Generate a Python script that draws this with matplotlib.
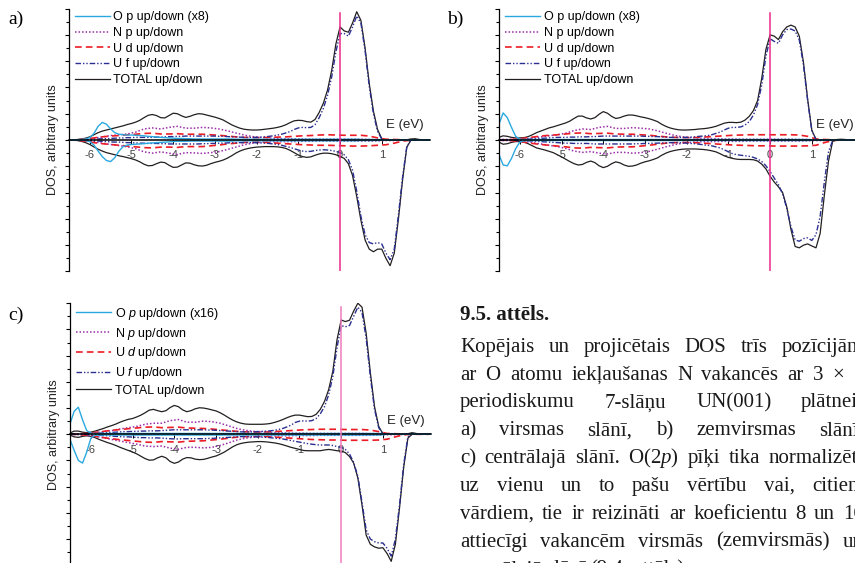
import numpy as np
import matplotlib.pyplot as plt
from matplotlib.transforms import IdentityTransform

plt.rcParams["font.family"] = ["Liberation Sans", "DejaVu Sans"]
plt.rcParams["mathtext.fontset"] = "custom"
plt.rcParams["mathtext.rm"] = "Liberation Serif"
plt.rcParams["mathtext.it"] = "Liberation Serif:italic"
plt.rcParams["mathtext.sf"] = "Liberation Sans:italic"

# energy grids (eV): fine one for TOTAL, U f, O p; coarse one for N p, U d
energy = np.round(np.arange(-6.5, 2.25, 0.1), 1)
energy_c = np.round(np.arange(-6.5, 2.15, 0.2), 1)

# ---------------- panel a) surface layer ----------------
tot_up_a = [0.0, 0.0, 0.02, 0.04, 0.07, 0.12, 0.2, 0.28, 0.34, 0.38,
            0.42, 0.46, 0.5, 0.54, 0.59, 0.63, 0.68, 0.75, 0.85, 0.94,
            0.97, 0.93, 0.85, 0.84, 0.93, 1.02, 1.0, 0.92, 0.86, 0.9,
            0.96, 1.0, 0.99, 0.95, 0.91, 0.87, 0.82, 0.76, 0.67, 0.58,
            0.51, 0.45, 0.41, 0.39, 0.38, 0.38, 0.39, 0.41, 0.43, 0.45,
            0.48, 0.52, 0.58, 0.66, 0.73, 0.75, 0.74, 0.7, 0.68, 0.78,
            1.05, 1.4, 1.9, 2.65, 3.65, 4.3, 4.15, 4.1, 4.45, 4.88,
            4.55, 3.5, 2.15, 1.1, 0.4, 0.05, 0.0, 0.0, 0.0, 0.0,
            0.0, 0.01, 0.04, 0.05, 0.02, 0.0, 0.0, 0.0]
tot_dn_a = [0.0, 0.0, -0.02, -0.05, -0.1, -0.17, -0.26, -0.35, -0.42, -0.48,
            -0.52, -0.56, -0.6, -0.63, -0.67, -0.71, -0.76, -0.83, -0.92, -0.98,
            -0.97, -0.9, -0.84, -0.86, -0.96, -1.04, -1.03, -0.95, -0.87, -0.88,
            -0.94, -0.98, -0.99, -0.96, -0.9, -0.85, -0.81, -0.76, -0.69, -0.6,
            -0.5, -0.42, -0.36, -0.32, -0.29, -0.27, -0.26, -0.25, -0.25, -0.25,
            -0.26, -0.28, -0.32, -0.39, -0.48, -0.57, -0.63, -0.66, -0.64, -0.58,
            -0.53, -0.5, -0.5, -0.52, -0.56, -0.62, -0.7, -0.9, -1.35, -2.15,
            -3.05, -3.8, -4.15, -4.25, -4.15, -4.15, -4.5, -4.78, -4.3, -3.0,
            -1.5, -0.28, 0.0, 0.0, 0.0, 0.0, 0.0, 0.0]
uf_up_a = [0.0, 0.0, 0.0, 0.01, 0.01, 0.02, 0.03, 0.04, 0.05, 0.05,
           0.06, 0.07, 0.08, 0.08, 0.09, 0.09, 0.1, 0.1, 0.1, 0.1,
           0.1, 0.11, 0.11, 0.12, 0.13, 0.13, 0.14, 0.14, 0.15, 0.15,
           0.15, 0.15, 0.15, 0.15, 0.15, 0.15, 0.14, 0.14, 0.13, 0.12,
           0.12, 0.11, 0.1, 0.1, 0.1, 0.1, 0.11, 0.12, 0.14, 0.16,
           0.19, 0.22, 0.27, 0.32, 0.4, 0.46, 0.48, 0.47, 0.48, 0.58,
           0.85, 1.2, 1.7, 2.4, 3.35, 4.05, 4.05, 3.95, 4.3, 4.72,
           4.45, 3.4, 2.05, 1.0, 0.33, 0.03, 0.0, 0.0, 0.0, 0.0,
           0.0, 0.0, 0.0, 0.0, 0.0, 0.0, 0.0, 0.0]
uf_dn_a = [0.0, 0.0, 0.0, -0.01, -0.01, -0.02, -0.03, -0.04, -0.05, -0.06,
           -0.07, -0.08, -0.08, -0.09, -0.1, -0.1, -0.11, -0.12, -0.12, -0.13,
           -0.13, -0.13, -0.14, -0.14, -0.15, -0.15, -0.15, -0.15, -0.15, -0.15,
           -0.15, -0.15, -0.14, -0.14, -0.13, -0.13, -0.12, -0.12, -0.11, -0.1,
           -0.1, -0.1, -0.1, -0.1, -0.1, -0.1, -0.11, -0.12, -0.13, -0.15,
           -0.17, -0.2, -0.24, -0.28, -0.33, -0.38, -0.42, -0.44, -0.43, -0.4,
           -0.38, -0.37, -0.38, -0.4, -0.43, -0.48, -0.56, -0.75, -1.15, -1.95,
           -2.9, -3.6, -3.9, -3.95, -3.9, -3.95, -4.3, -4.55, -4.15, -2.85,
           -1.4, -0.25, 0.0, 0.0, 0.0, 0.0, 0.0, 0.0]
op_up_a = [0.0, 0.0, 0.01, 0.02, 0.04, 0.09, 0.25, 0.52, 0.67, 0.6,
           0.42, 0.28, 0.22, 0.2, 0.19, 0.19, 0.18, 0.17, 0.16, 0.14,
           0.13, 0.11, 0.1, 0.09, 0.08, 0.07, 0.06, 0.06, 0.05, 0.05,
           0.04, 0.04, 0.04, 0.04, 0.04, 0.04, 0.04, 0.04, 0.04, 0.04,
           0.03, 0.03, 0.03, 0.03, 0.03, 0.03, 0.03, 0.03, 0.03, 0.03,
           0.03, 0.03, 0.03, 0.03, 0.03, 0.03, 0.03, 0.03, 0.03, 0.03,
           0.03, 0.03, 0.03, 0.03, 0.03, 0.03, 0.03, 0.03, 0.03, 0.03,
           0.02, 0.02, 0.02, 0.02, 0.02, 0.01, 0.0, 0.0, 0.0, 0.0,
           0.0, 0.0, 0.0, 0.0, 0.0, 0.0, 0.0, 0.0]
op_dn_a = [0.0, 0.0, 0.0, -0.01, -0.02, -0.06, -0.19, -0.42, -0.63, -0.78,
           -0.82, -0.67, -0.42, -0.25, -0.19, -0.17, -0.16, -0.15, -0.14, -0.12,
           -0.11, -0.1, -0.09, -0.08, -0.07, -0.06, -0.05, -0.05, -0.05, -0.04,
           -0.04, -0.04, -0.04, -0.04, -0.04, -0.04, -0.04, -0.04, -0.04, -0.04,
           -0.03, -0.03, -0.03, -0.03, -0.03, -0.03, -0.03, -0.03, -0.03, -0.03,
           -0.03, -0.03, -0.03, -0.03, -0.03, -0.03, -0.03, -0.03, -0.03, -0.03,
           -0.03, -0.03, -0.03, -0.03, -0.03, -0.03, -0.03, -0.03, -0.03, -0.03,
           -0.02, -0.02, -0.02, -0.02, -0.02, -0.01, 0.0, 0.0, 0.0, 0.0,
           0.0, 0.0, 0.0, 0.0, 0.0, 0.0, 0.0, 0.0]
np_up_a = [0.0, 0.01, 0.03, 0.07, 0.12, 0.17, 0.2, 0.23, 0.3, 0.42,
           0.46, 0.42, 0.48, 0.52, 0.45, 0.45, 0.48, 0.46, 0.42, 0.35,
           0.27, 0.19, 0.13, 0.1, 0.08, 0.06, 0.05, 0.04, 0.04, 0.03,
           0.03, 0.03, 0.03, 0.03, 0.03, 0.03, 0.02, 0.01, 0.01, 0.01,
           0.0, 0.0, 0.0, 0.0]
np_dn_a = [0.0, -0.01, -0.03, -0.07, -0.12, -0.17, -0.21, -0.26, -0.33, -0.45,
           -0.5, -0.45, -0.5, -0.55, -0.48, -0.49, -0.51, -0.48, -0.44, -0.36,
           -0.27, -0.18, -0.12, -0.09, -0.07, -0.06, -0.06, -0.06, -0.05, -0.05,
           -0.04, -0.04, -0.04, -0.04, -0.04, -0.04, -0.04, -0.03, -0.02, -0.02,
           -0.01, 0.0, 0.0, 0.0]
ud_up_a = [0.0, 0.01, 0.04, 0.08, 0.12, 0.15, 0.17, 0.2, 0.22, 0.25,
           0.26, 0.23, 0.23, 0.24, 0.22, 0.22, 0.22, 0.2, 0.18, 0.15,
           0.12, 0.1, 0.09, 0.09, 0.1, 0.11, 0.12, 0.14, 0.16, 0.17,
           0.19, 0.2, 0.19, 0.18, 0.18, 0.18, 0.15, 0.08, 0.03, 0.02,
           0.01, 0.0, 0.0, 0.0]
ud_dn_a = [0.0, -0.01, -0.05, -0.1, -0.14, -0.17, -0.2, -0.23, -0.26, -0.29,
           -0.3, -0.27, -0.27, -0.28, -0.25, -0.25, -0.25, -0.22, -0.19, -0.15,
           -0.12, -0.09, -0.08, -0.08, -0.1, -0.12, -0.14, -0.16, -0.18, -0.19,
           -0.2, -0.2, -0.21, -0.22, -0.23, -0.23, -0.22, -0.2, -0.18, -0.12,
           -0.04, -0.01, 0.0, 0.0]

# ---------------- panel b) subsurface layer ----------------
tot_up_b = [0.1, 0.16, 0.14, 0.1, 0.08, 0.08, 0.09, 0.13, 0.2, 0.28,
            0.34, 0.4, 0.46, 0.5, 0.55, 0.6, 0.65, 0.72, 0.82, 0.91,
            0.91, 0.84, 0.8, 0.85, 0.98, 1.08, 1.02, 0.9, 0.82, 0.85,
            0.91, 0.95, 0.95, 0.92, 0.88, 0.85, 0.81, 0.76, 0.7, 0.6,
            0.52, 0.46, 0.42, 0.39, 0.38, 0.38, 0.39, 0.4, 0.42, 0.43,
            0.45, 0.48, 0.52, 0.58, 0.64, 0.67, 0.67, 0.66, 0.68, 0.76,
            0.9, 1.12, 1.5, 2.35, 3.45, 4.0, 3.95, 3.82, 4.12, 4.3,
            4.37, 4.3, 3.95, 2.95, 1.55, 0.38, 0.02, 0.0, 0.0, 0.0,
            0.0, 0.02, 0.03, 0.02, 0.0, 0.0, 0.0, 0.0]
tot_dn_b = [-0.08, -0.16, -0.14, -0.09, -0.06, -0.06, -0.08, -0.14, -0.22, -0.3,
            -0.34, -0.38, -0.43, -0.48, -0.56, -0.64, -0.73, -0.82, -0.9, -0.95,
            -0.93, -0.85, -0.8, -0.86, -0.98, -1.05, -1.0, -0.9, -0.83, -0.87,
            -0.95, -1.0, -0.99, -0.95, -0.88, -0.83, -0.79, -0.74, -0.68, -0.58,
            -0.5, -0.44, -0.4, -0.37, -0.35, -0.34, -0.34, -0.34, -0.35, -0.36,
            -0.38, -0.41, -0.45, -0.52, -0.6, -0.66, -0.7, -0.73, -0.74, -0.74,
            -0.74, -0.75, -0.8, -0.92, -1.1, -1.38, -1.6, -1.78, -2.0, -2.55,
            -3.4, -4.05, -4.1, -4.0, -3.95, -4.03, -4.1, -3.55, -2.1, -0.8,
            -0.05, 0.0, 0.0, 0.0, 0.0, 0.0, 0.0, 0.0]
uf_up_b = [0.0, 0.01, 0.01, 0.01, 0.01, 0.01, 0.02, 0.03, 0.04, 0.05,
           0.06, 0.07, 0.08, 0.09, 0.1, 0.1, 0.1, 0.11, 0.11, 0.12,
           0.12, 0.12, 0.13, 0.13, 0.14, 0.15, 0.15, 0.15, 0.15, 0.15,
           0.15, 0.15, 0.15, 0.15, 0.15, 0.14, 0.14, 0.13, 0.13, 0.12,
           0.11, 0.1, 0.1, 0.1, 0.1, 0.1, 0.11, 0.12, 0.14, 0.15,
           0.17, 0.2, 0.25, 0.3, 0.38, 0.45, 0.48, 0.48, 0.5, 0.57,
           0.7, 0.95, 1.35, 2.1, 3.2, 3.85, 3.75, 3.68, 4.0, 4.2,
           4.22, 4.15, 3.8, 2.85, 1.5, 0.35, 0.02, 0.0, 0.0, 0.0,
           0.0, 0.0, 0.0, 0.0, 0.0, 0.0, 0.0, 0.0]
uf_dn_b = [0.0, -0.01, -0.01, -0.01, -0.01, -0.01, -0.02, -0.03, -0.04, -0.05,
           -0.06, -0.07, -0.08, -0.09, -0.1, -0.11, -0.12, -0.12, -0.13, -0.13,
           -0.13, -0.13, -0.14, -0.15, -0.15, -0.15, -0.15, -0.15, -0.15, -0.15,
           -0.15, -0.15, -0.15, -0.14, -0.14, -0.13, -0.13, -0.12, -0.12, -0.11,
           -0.11, -0.1, -0.1, -0.1, -0.11, -0.12, -0.13, -0.14, -0.16, -0.18,
           -0.2, -0.22, -0.26, -0.3, -0.37, -0.45, -0.52, -0.56, -0.58, -0.6,
           -0.62, -0.66, -0.72, -0.82, -0.98, -1.2, -1.45, -1.7, -2.05, -2.6,
           -3.3, -3.8, -3.85, -3.75, -3.72, -3.82, -3.6, -2.9, -1.6, -0.45,
           -0.02, 0.0, 0.0, 0.0, 0.0, 0.0, 0.0, 0.0]
op_up_b = [0.6, 1.03, 0.85, 0.48, 0.14, 0.03, 0.02, 0.02, 0.02, 0.02,
           0.02, 0.02, 0.02, 0.02, 0.02, 0.02, 0.02, 0.02, 0.02, 0.02,
           0.02, 0.02, 0.02, 0.02, 0.02, 0.02, 0.02, 0.02, 0.02, 0.02,
           0.02, 0.02, 0.02, 0.02, 0.02, 0.02, 0.02, 0.02, 0.02, 0.02,
           0.02, 0.02, 0.02, 0.02, 0.02, 0.02, 0.02, 0.02, 0.02, 0.02,
           0.02, 0.02, 0.02, 0.02, 0.02, 0.02, 0.02, 0.02, 0.02, 0.02,
           0.02, 0.02, 0.02, 0.02, 0.02, 0.02, 0.02, 0.02, 0.02, 0.02,
           0.02, 0.02, 0.02, 0.02, 0.02, 0.01, 0.0, 0.0, 0.0, 0.0,
           0.0, 0.0, 0.0, 0.0, 0.0, 0.0, 0.0, 0.0]
op_dn_b = [-0.55, -0.95, -0.98, -0.7, -0.33, -0.08, -0.03, -0.02, -0.02, -0.02,
           -0.02, -0.02, -0.02, -0.02, -0.02, -0.02, -0.02, -0.02, -0.02, -0.02,
           -0.02, -0.02, -0.02, -0.02, -0.02, -0.02, -0.02, -0.02, -0.02, -0.02,
           -0.02, -0.02, -0.02, -0.02, -0.02, -0.02, -0.02, -0.02, -0.02, -0.02,
           -0.02, -0.02, -0.02, -0.02, -0.02, -0.02, -0.02, -0.02, -0.02, -0.02,
           -0.02, -0.02, -0.02, -0.02, -0.02, -0.02, -0.02, -0.02, -0.02, -0.02,
           -0.02, -0.02, -0.02, -0.02, -0.02, -0.02, -0.02, -0.02, -0.02, -0.02,
           -0.02, -0.02, -0.02, -0.02, -0.02, -0.01, 0.0, 0.0, 0.0, 0.0,
           0.0, 0.0, 0.0, 0.0, 0.0, 0.0, 0.0, 0.0]
np_up_b = [0.02, 0.02, 0.02, 0.04, 0.08, 0.12, 0.16, 0.2, 0.26, 0.36,
           0.42, 0.4, 0.48, 0.52, 0.44, 0.44, 0.47, 0.45, 0.42, 0.35,
           0.26, 0.18, 0.12, 0.09, 0.07, 0.06, 0.05, 0.04, 0.04, 0.03,
           0.03, 0.03, 0.03, 0.03, 0.03, 0.03, 0.02, 0.02, 0.01, 0.01,
           0.0, 0.0, 0.0, 0.0]
np_dn_b = [-0.02, -0.02, -0.02, -0.05, -0.1, -0.15, -0.2, -0.25, -0.32, -0.42,
           -0.47, -0.44, -0.5, -0.53, -0.47, -0.47, -0.5, -0.48, -0.43, -0.35,
           -0.26, -0.18, -0.12, -0.09, -0.07, -0.06, -0.06, -0.05, -0.05, -0.05,
           -0.04, -0.04, -0.04, -0.04, -0.04, -0.04, -0.04, -0.03, -0.02, -0.02,
           -0.01, 0.0, 0.0, 0.0]
ud_up_b = [0.01, 0.01, 0.03, 0.07, 0.11, 0.15, 0.18, 0.2, 0.23, 0.26,
           0.27, 0.24, 0.25, 0.26, 0.23, 0.22, 0.22, 0.2, 0.18, 0.15,
           0.12, 0.1, 0.09, 0.09, 0.1, 0.12, 0.14, 0.16, 0.18, 0.19,
           0.2, 0.2, 0.2, 0.2, 0.2, 0.2, 0.19, 0.14, 0.04, 0.02,
           0.01, 0.0, 0.0, 0.0]
ud_dn_b = [-0.01, -0.01, -0.04, -0.08, -0.13, -0.17, -0.2, -0.23, -0.26, -0.3,
           -0.31, -0.28, -0.29, -0.3, -0.27, -0.26, -0.26, -0.23, -0.2, -0.16,
           -0.12, -0.1, -0.09, -0.09, -0.11, -0.13, -0.15, -0.17, -0.19, -0.2,
           -0.21, -0.22, -0.22, -0.23, -0.23, -0.23, -0.23, -0.22, -0.2, -0.1,
           -0.02, 0.0, 0.0, 0.0]

# ---------------- panel c) central layer ----------------
tot_up_c = [0.05, 0.12, 0.12, 0.08, 0.06, 0.08, 0.12, 0.17, 0.22, 0.28,
            0.33, 0.39, 0.46, 0.52, 0.57, 0.6, 0.66, 0.73, 0.82, 0.92,
            0.95, 0.9, 0.86, 0.9, 1.02, 1.1, 1.05, 0.93, 0.86, 0.9,
            0.97, 1.01, 1.0, 0.97, 0.93, 0.89, 0.82, 0.73, 0.63, 0.54,
            0.47, 0.42, 0.39, 0.38, 0.38, 0.38, 0.38, 0.39, 0.41, 0.45,
            0.5, 0.56, 0.63, 0.69, 0.73, 0.73, 0.7, 0.67, 0.68, 0.76,
            0.95, 1.25, 1.7, 2.4, 3.6, 4.36, 4.3, 4.35, 4.7, 5.0,
            4.85, 3.85, 2.35, 1.05, 0.3, 0.02, 0.0, 0.0, 0.0, 0.0,
            0.0, 0.02, 0.06, 0.03, 0.0, 0.0, 0.0, 0.0]
tot_dn_c = [-0.03, -0.1, -0.12, -0.08, -0.06, -0.08, -0.13, -0.2, -0.26, -0.32,
            -0.37, -0.43, -0.5, -0.56, -0.62, -0.68, -0.75, -0.84, -0.93, -0.99,
            -0.98, -0.9, -0.84, -0.9, -1.04, -1.11, -1.06, -0.95, -0.89, -0.9,
            -0.95, -0.97, -0.96, -0.92, -0.87, -0.83, -0.76, -0.68, -0.58, -0.48,
            -0.4, -0.35, -0.32, -0.3, -0.29, -0.28, -0.28, -0.29, -0.31, -0.33,
            -0.36, -0.4, -0.45, -0.5, -0.54, -0.58, -0.62, -0.63, -0.63, -0.63,
            -0.63, -0.6, -0.58, -0.6, -0.63, -0.64, -0.7, -0.85, -1.1, -1.67,
            -2.7, -3.85, -4.2, -4.3, -4.35, -4.33, -4.55, -4.85, -4.2, -2.8,
            -1.25, -0.15, 0.0, 0.0, 0.0, 0.0, 0.0, 0.0]
uf_up_c = [0.0, 0.01, 0.01, 0.01, 0.01, 0.02, 0.03, 0.04, 0.05, 0.06,
           0.07, 0.08, 0.09, 0.1, 0.1, 0.11, 0.11, 0.12, 0.12, 0.13,
           0.13, 0.13, 0.14, 0.15, 0.16, 0.17, 0.17, 0.17, 0.17, 0.17,
           0.17, 0.17, 0.17, 0.16, 0.16, 0.15, 0.14, 0.13, 0.12, 0.11,
           0.1, 0.09, 0.09, 0.09, 0.09, 0.1, 0.11, 0.12, 0.13, 0.15,
           0.18, 0.22, 0.28, 0.35, 0.45, 0.5, 0.51, 0.5, 0.52, 0.6,
           0.78, 1.05, 1.5, 2.2, 3.3, 4.15, 4.1, 4.15, 4.5, 4.85,
           4.65, 3.65, 2.2, 0.95, 0.25, 0.02, 0.0, 0.0, 0.0, 0.0,
           0.0, 0.0, 0.0, 0.0, 0.0, 0.0, 0.0, 0.0]
uf_dn_c = [0.0, -0.01, -0.01, -0.01, -0.01, -0.02, -0.03, -0.04, -0.05, -0.06,
           -0.07, -0.08, -0.09, -0.1, -0.1, -0.11, -0.12, -0.13, -0.13, -0.14,
           -0.14, -0.14, -0.15, -0.16, -0.17, -0.18, -0.18, -0.17, -0.17, -0.17,
           -0.17, -0.17, -0.17, -0.16, -0.16, -0.15, -0.14, -0.13, -0.12, -0.11,
           -0.1, -0.09, -0.09, -0.09, -0.1, -0.1, -0.11, -0.12, -0.13, -0.15,
           -0.16, -0.18, -0.21, -0.24, -0.27, -0.3, -0.33, -0.36, -0.38, -0.4,
           -0.41, -0.41, -0.41, -0.43, -0.47, -0.5, -0.58, -0.75, -1.08, -1.6,
           -2.6, -3.65, -4.0, -4.1, -4.15, -4.15, -4.35, -4.65, -4.0, -2.7,
           -1.15, -0.1, 0.0, 0.0, 0.0, 0.0, 0.0, 0.0]
op_up_c = [0.4, 0.88, 1.03, 0.55, 0.14, 0.04, 0.03, 0.03, 0.03, 0.03,
           0.03, 0.03, 0.03, 0.03, 0.03, 0.03, 0.03, 0.03, 0.03, 0.03,
           0.03, 0.03, 0.03, 0.03, 0.03, 0.03, 0.03, 0.03, 0.03, 0.03,
           0.03, 0.03, 0.03, 0.03, 0.03, 0.03, 0.03, 0.03, 0.03, 0.03,
           0.03, 0.03, 0.03, 0.03, 0.03, 0.03, 0.03, 0.03, 0.03, 0.03,
           0.03, 0.03, 0.03, 0.03, 0.03, 0.03, 0.03, 0.03, 0.03, 0.03,
           0.03, 0.03, 0.03, 0.03, 0.03, 0.03, 0.03, 0.03, 0.03, 0.03,
           0.03, 0.03, 0.03, 0.03, 0.03, 0.02, 0.0, 0.0, 0.0, 0.0,
           0.0, 0.0, 0.0, 0.0, 0.0, 0.0, 0.0, 0.0]
op_dn_c = [-0.2, -0.62, -1.0, -1.1, -0.68, -0.15, -0.04, -0.03, -0.03, -0.03,
           -0.03, -0.03, -0.03, -0.03, -0.03, -0.03, -0.03, -0.03, -0.03, -0.03,
           -0.03, -0.03, -0.03, -0.03, -0.03, -0.03, -0.03, -0.03, -0.03, -0.03,
           -0.03, -0.03, -0.03, -0.03, -0.03, -0.03, -0.03, -0.03, -0.03, -0.03,
           -0.03, -0.03, -0.03, -0.03, -0.03, -0.03, -0.03, -0.03, -0.03, -0.03,
           -0.03, -0.03, -0.03, -0.03, -0.03, -0.03, -0.03, -0.03, -0.03, -0.03,
           -0.03, -0.03, -0.03, -0.03, -0.03, -0.03, -0.03, -0.03, -0.03, -0.03,
           -0.03, -0.03, -0.03, -0.03, -0.03, -0.02, 0.0, 0.0, 0.0, 0.0,
           0.0, 0.0, 0.0, 0.0, 0.0, 0.0, 0.0, 0.0]
np_up_c = [0.0, 0.01, 0.03, 0.06, 0.1, 0.14, 0.2, 0.25, 0.3, 0.38,
           0.42, 0.42, 0.52, 0.56, 0.46, 0.46, 0.5, 0.48, 0.42, 0.32,
           0.22, 0.15, 0.11, 0.09, 0.07, 0.06, 0.05, 0.04, 0.04, 0.03,
           0.03, 0.03, 0.03, 0.03, 0.03, 0.03, 0.02, 0.02, 0.01, 0.01,
           0.0, 0.0, 0.0, 0.0]
np_dn_c = [0.0, -0.01, -0.04, -0.08, -0.13, -0.2, -0.26, -0.32, -0.38, -0.45,
           -0.47, -0.45, -0.53, -0.57, -0.5, -0.5, -0.52, -0.5, -0.43, -0.33,
           -0.22, -0.15, -0.11, -0.09, -0.07, -0.06, -0.06, -0.05, -0.05, -0.05,
           -0.04, -0.04, -0.04, -0.04, -0.04, -0.04, -0.04, -0.03, -0.02, -0.02,
           -0.01, 0.0, 0.0, 0.0]
ud_up_c = [0.0, 0.01, 0.03, 0.07, 0.11, 0.15, 0.18, 0.21, 0.24, 0.27,
           0.28, 0.25, 0.26, 0.27, 0.24, 0.23, 0.22, 0.2, 0.17, 0.14,
           0.11, 0.09, 0.08, 0.08, 0.09, 0.11, 0.13, 0.15, 0.17, 0.18,
           0.19, 0.19, 0.19, 0.18, 0.18, 0.18, 0.16, 0.1, 0.03, 0.02,
           0.01, 0.0, 0.0, 0.0]
ud_dn_c = [0.0, -0.01, -0.04, -0.08, -0.13, -0.17, -0.21, -0.24, -0.27, -0.3,
           -0.31, -0.28, -0.29, -0.3, -0.27, -0.26, -0.25, -0.22, -0.19, -0.15,
           -0.11, -0.09, -0.08, -0.08, -0.1, -0.12, -0.14, -0.16, -0.18, -0.2,
           -0.21, -0.22, -0.22, -0.23, -0.23, -0.23, -0.23, -0.22, -0.19, -0.1,
           -0.02, 0.0, 0.0, 0.0]

xtick_values = [-6, -5, -4, -3, -2, -1, 0, 1]
xtick_labels = ["-6", "-5", "-4", "-3", "-2", "-1", "0", "1"]

labels_ab = ["O p up/down (x8)", "N p up/down", "U d up/down",
             "U f up/down", "TOTAL up/down"]
labels_c = [r"O $\mathsf{p}$ up/down (x16)", r"N $\mathsf{p}$ up/down",
            r"U $\mathsf{d}$ up/down", r"U $\mathsf{f}$ up/down", "TOTAL up/down"]

caption_title = "9.5. attēls."
caption_lines = [
    "Kopējais un projicētais DOS trīs pozīcijām",
    "ar O atomu iekļaušanas N vakancēs ar 3 × 3",
    "periodiskumu 7-slāņu UN(001) plātnei:",
    "a) virsmas slānī, b) zemvirsmas slānī,",
    r"c) centrālajā slānī. O(2$\mathit{p}$) pīķi tika normalizēti",
    "uz vienu un to pašu vērtību vai, citiem",
    "vārdiem, tie ir reizināti ar koeficientu 8 un 16",
    "attiecīgi vakancēm virsmās (zemvirsmās) un",
    "centrālajā slānī (9.4. attēls).",
]

C_OP = "#2aa9e0"
C_NP = "#9a2ea8"
C_UD = "#ec1c24"
C_UF = "#2b2f8f"
C_TOT = "#231f20"
UF_DASH = (0, (4, 1.4, 1, 1.4, 1, 1.4))


def draw_panel(ax, d, labels, vcolor, elabel_y):
    l_tot, = ax.plot(energy, d["tot_up"], color=C_TOT, lw=0.9, zorder=2)
    ax.plot(energy, d["tot_dn"], color=C_TOT, lw=0.9, zorder=2)
    l_np, = ax.plot(energy_c, d["np_up"], color=C_NP, lw=1.1, ls=(0, (1, 1.3)))
    ax.plot(energy_c, d["np_dn"], color=C_NP, lw=1.1, ls=(0, (1, 1.3)))
    l_ud, = ax.plot(energy_c, d["ud_up"], color=C_UD, lw=1.2, ls=(0, (4, 2.5)))
    ax.plot(energy_c, d["ud_dn"], color=C_UD, lw=1.2, ls=(0, (4, 2.5)))
    l_uf, = ax.plot(energy, d["uf_up"], color=C_UF, lw=1.0, ls=UF_DASH)
    ax.plot(energy, d["uf_dn"], color=C_UF, lw=1.0, ls=UF_DASH)
    l_op, = ax.plot(energy, d["op_up"], color=C_OP, lw=1.0, zorder=2.2)
    ax.plot(energy, d["op_dn"], color=C_OP, lw=1.0, zorder=2.2)
    ax.axvline(0, ymin=0, ymax=0.985, color=vcolor, lw=1.1, zorder=4)

    ax.set_xlim(-6.5, 2.15)
    ax.set_ylim(-5, 5)
    ax.set_facecolor("none")
    for s in ("top", "right"):
        ax.spines[s].set_visible(False)
    ax.spines["bottom"].set_position(("data", 0))
    ax.spines["bottom"].set_linewidth(1.1)
    ax.spines["left"].set_linewidth(0.9)

    ax.set_xticks(xtick_values)
    ax.set_xticklabels(xtick_labels)
    ax.tick_params(axis="x", direction="out", length=3, width=0.7,
                   labelsize=8, labelcolor="#444444", pad=4.5)
    ax.set_yticks(np.arange(-5, 5.5, 1))
    ax.set_yticks(np.arange(-4.5, 5, 1), minor=True)
    ax.tick_params(axis="y", which="major", direction="out", length=3.2,
                   width=0.8, labelleft=False)
    ax.tick_params(axis="y", which="minor", direction="out", length=2,
                   width=0.8)
    ax.set_ylabel("DOS, arbitrary units", fontsize=9, labelpad=2,
                  color="#222222")
    ax.text(1.56, elabel_y, "E (eV)", fontsize=9.5, ha="center", va="center",
            color="#222222")

    ax.legend([l_op, l_np, l_ud, l_uf, l_tot], labels, loc="upper left",
              bbox_to_anchor=(0.016, 0.99), frameon=False, fontsize=9,
              handlelength=2.8, handletextpad=0.3, labelspacing=0.3,
              borderpad=0, borderaxespad=0)


fig = plt.figure(figsize=(8.55, 5.63), dpi=100)
ax_a = fig.add_axes([0.0806, 0.5178, 0.422, 0.467])
ax_b = fig.add_axes([0.5836, 0.5178, 0.422, 0.467])
ax_c = fig.add_axes([0.0819, -0.004, 0.422, 0.4654])

panels = [
    (ax_a, dict(tot_up=tot_up_a, tot_dn=tot_dn_a, uf_up=uf_up_a, uf_dn=uf_dn_a,
                op_up=op_up_a, op_dn=op_dn_a, np_up=np_up_a, np_dn=np_dn_a,
                ud_up=ud_up_a, ud_dn=ud_dn_a), labels_ab, "#ec2a8c", 0.57),
    (ax_b, dict(tot_up=tot_up_b, tot_dn=tot_dn_b, uf_up=uf_up_b, uf_dn=uf_dn_b,
                op_up=op_up_b, op_dn=op_dn_b, np_up=np_up_b, np_dn=np_dn_b,
                ud_up=ud_up_b, ud_dn=ud_dn_b), labels_ab, "#ec2a8c", 0.57),
    (ax_c, dict(tot_up=tot_up_c, tot_dn=tot_dn_c, uf_up=uf_up_c, uf_dn=uf_dn_c,
                op_up=op_up_c, op_dn=op_dn_c, np_up=np_up_c, np_dn=np_dn_c,
                ud_up=ud_up_c, ud_dn=ud_dn_c), labels_c, "#f07cbf", 0.5),
]
for ax, d, labels, vcolor, ey in panels:
    draw_panel(ax, d, labels, vcolor, ey)

# panel letters
H = 563
serif = ["Liberation Serif", "DejaVu Serif"]
pix = IdentityTransform()
fig.text(8, H - 24, "a)", transform=pix, fontsize=14, family=serif)
fig.text(447, H - 24, "b)", transform=pix, fontsize=14, family=serif)
fig.text(8, H - 320, "c)", transform=pix, fontsize=14, family=serif)

# caption, justified line by line (text runs past the right edge as in the page)
renderer = fig.canvas.get_renderer()
x_left, x_right = 460, 864
cap_size = 15
fig.text(x_left, H - 320, caption_title, transform=pix, fontsize=cap_size,
         family=serif, weight="bold", color="#1a1a1a")
for i, line in enumerate(caption_lines):
    y = H - (351.7 + 27.85 * i)
    words = line.split(" ")
    texts = [fig.text(0, y, w, transform=pix, fontsize=cap_size, family=serif,
                      color="#1a1a1a") for w in words]
    widths = [t.get_window_extent(renderer).width for t in texts]
    gap = 4.5
    if i < len(caption_lines) - 1:
        gap = max(gap, (x_right - x_left - sum(widths)) / (len(words) - 1))
    x = x_left
    for t, w in zip(texts, widths):
        t.set_x(x)
        x += w + gap

fig.savefig("out.png", dpi=100)
